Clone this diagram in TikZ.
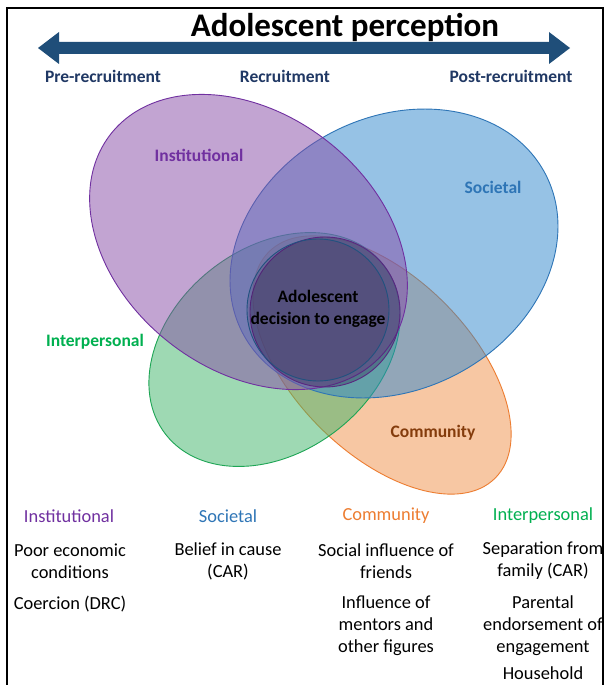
\documentclass[tikz,border=0pt]{standalone}
\usepackage{fontspec}
\setmainfont{Carlito}
\definecolor{arrowC}{RGB}{31,78,121}
\definecolor{navyC}{RGB}{32,56,100}
\definecolor{purpF}{RGB}{135,75,167}
\definecolor{purpD}{RGB}{112,48,160}
\definecolor{blueF}{RGB}{47,135,205}
\definecolor{blueD}{RGB}{46,117,182}
\definecolor{greenF}{RGB}{63,181,105}
\definecolor{greenD}{RGB}{30,165,85}
\definecolor{greenT}{RGB}{0,176,80}
\definecolor{orangeF}{RGB}{241,145,73}
\definecolor{orangeD}{RGB}{237,125,49}
\definecolor{brownT}{RGB}{132,60,12}
\definecolor{coreF}{RGB}{40,30,70}
\begin{document}
\begin{tikzpicture}[x=1pt,y=-1pt,
  lbl/.style={font=\fontsize{17.5}{20}\selectfont\bfseries, inner sep=0pt},
  toplbl/.style={font=\fontsize{17.5}{20}\selectfont\bfseries, text=navyC, inner sep=0pt},
  head/.style={font=\fontsize{18.4}{22}\selectfont, inner sep=0pt},
  item/.style={font=\fontsize{18.4}{22}\selectfont, align=center, inner sep=0pt},
  venn/.style={fill opacity=0.5, line width=0.9pt}]
\useasboundingbox (0,0) rectangle (607,685);
\fill[white] (0,0) rectangle (607,685);

% Venn ellipses
\filldraw[venn, fill=orangeF, draw=orangeD, rotate around={-45:(382,365)}] (382,365) ellipse [x radius=160pt, y radius=88pt];
\filldraw[venn, fill=greenF, draw=greenD, rotate around={38:(274.5,349.5)}] (274.5,349.5) ellipse [x radius=138pt, y radius=102pt];
\filldraw[venn, fill=blueF, draw=blueD, rotate around={28:(394,253.5)}] (394,253.5) ellipse [x radius=171pt, y radius=136pt];
\filldraw[venn, fill=purpF, draw=purpD, rotate around={-38:(248.5,242)}] (248.5,242) ellipse [x radius=175pt, y radius=128pt];

% inner circles
\filldraw[fill=coreF, fill opacity=0.32, draw=purpD!80!black, line width=0.9pt] (325,312) circle [radius=75pt];
\filldraw[fill=coreF, fill opacity=0.15, draw=blueD!70!black, line width=0.9pt] (318,310) circle [radius=71pt];

% frame
\draw[line width=1.5pt] (7,685) -- (7,8) -- (603,8) -- (603,685);

% timeline arrow
\coordinate (aL) at (38,48);
\coordinate (aR) at (570,48);
\fill[arrowC] (aL) -- ++(21,-16) -- ++(0,10) -- ++(490,0) -- ++(0,-10) -- (aR)
  -- ++(-21,16) -- ++(0,-10) -- ++(-490,0) -- ++(0,10) -- cycle;

\node[font=\fontsize{33}{36}\selectfont\bfseries, inner sep=0pt] (title) at (345,27) {Adolescent perception};
\node[toplbl] (pre) at (103,76) {Pre-recruitment};
\node[toplbl] (rec) at (285,76) {Recruitment};
\node[toplbl] (post) at (511,76) {Post-recruitment};

% ellipse labels
\node[lbl, text=purpD] (inst) at (199,155) {Institutional};
\node[lbl, text=blueD] (soc) at (493,187) {Societal};
\node[lbl, text=greenT] (inter) at (95,342) {Interpersonal};
\node[lbl, text=brownT] (comm) at (433,433) {Community};
\node[lbl, align=center, font=\fontsize{17.5}{22}\selectfont\bfseries] (core) at (318,309) {Adolescent\\decision to engage};

% bottom columns
\node[head, text=purpD] (h1) at (69,516) {Institutional};
\node[head, text=blueD] (h2) at (228,516) {Societal};
\node[head, text=orangeD] (h3) at (386,516) {Community};
\node[head, text=greenT] (h4) at (543,516) {Interpersonal};

\node[item] (c1a) at (70,561) {Poor economic\\conditions};
\node[item] (c1b) at (70,604) {Coercion (DRC)};
\node[item] (c2a) at (228,561) {Belief in cause\\(CAR)};
\node[item] (c3a) at (386,561) {Social influence of\\friends};
\node[item] (c3b) at (386,626) {Influence of\\mentors and\\other figures};
\node[item] (c4a) at (543,561) {Separation from\\family (CAR)};
\node[item] (c4b) at (543,626) {Parental\\endorsement of\\engagement};
\node[item] (c4c) at (543,673) {Household};
\end{tikzpicture}
\end{document}
